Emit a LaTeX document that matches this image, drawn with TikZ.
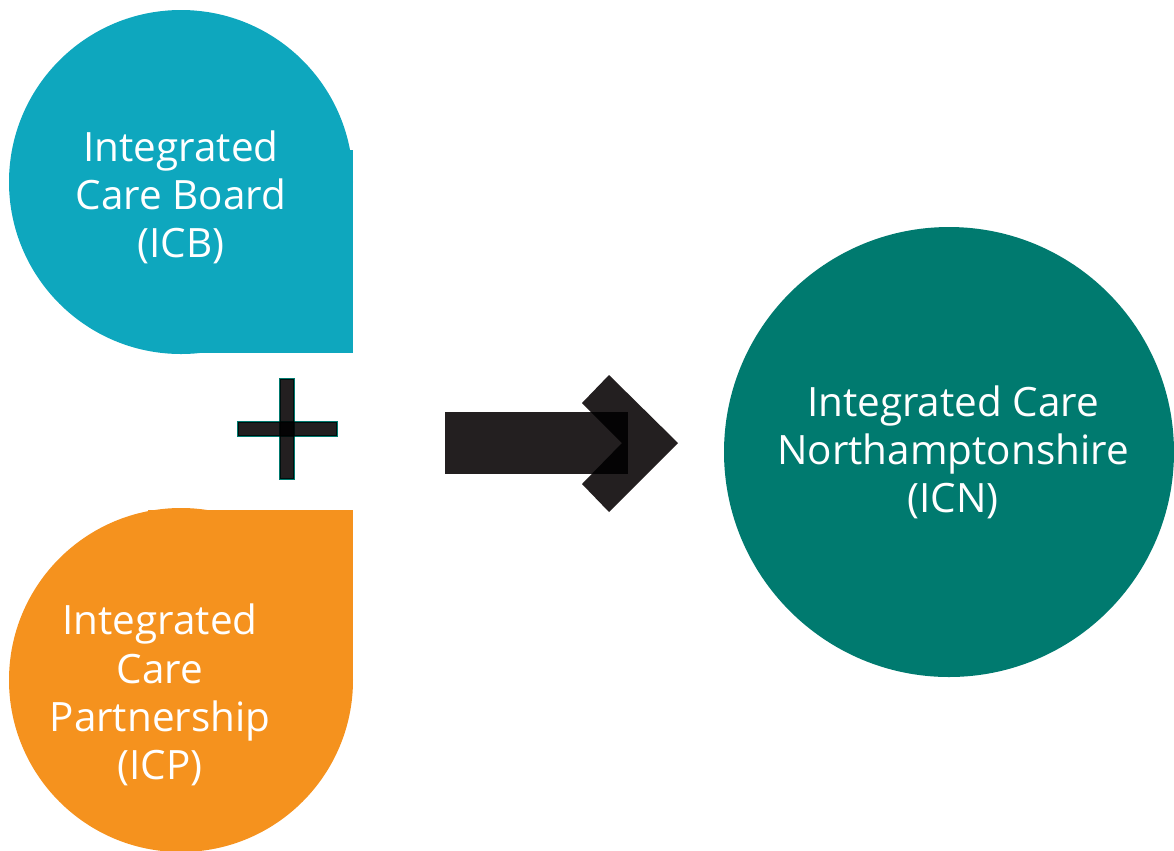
\documentclass[tikz,border=0pt]{standalone}
\usepackage{fontspec}
\setmainfont{Open Sans}
\usetikzlibrary{positioning}

\definecolor{icbblue}{HTML}{0EA7BE}
\definecolor{icporange}{HTML}{F5921E}
\definecolor{icnteal}{HTML}{007A6F}
\definecolor{inkdark}{HTML}{231F20}

\begin{document}
\begin{tikzpicture}[x=0.02cm, y=-0.02cm,
    droptext/.style={text=white, align=center, font=\fontsize{23}{27.4}\selectfont},
    darkpiece/.style={fill=inkdark, blend mode=multiply}]

  \useasboundingbox (0,0) rectangle (1174,850);

  \def\dropR{172}

  % ICB drop (circle with square corner)
  \fill[icbblue] (181,182) circle[radius=\dropR];
  \fill[icbblue] (181,150) rectangle (353,353);
  \node[droptext] (icb) at (181,197) {Integrated\\Care Board\\(ICB)};

  % ICP drop
  \fill[icporange] (181,680) circle[radius=\dropR];
  \fill[icporange] (148,510) rectangle (353,680);
  \node[droptext] (icp) at (160,695) {Integrated\\Care\\Partnership\\(ICP)};

  % plus sign
  \filldraw[darkpiece, draw=icnteal, line width=1.4pt] (280,379) rectangle (294,479);
  \filldraw[darkpiece, draw=icnteal, line width=1.4pt] (238,422) rectangle (337,436);

  % arrow (bar plus chevron head)
  \fill[darkpiece] (445,412) rectangle (628,474);
  \fill[darkpiece] (582,403) -- (609,375) -- (678,443) -- (609,512)
    -- (582,484) -- (622,443) -- cycle;

  % ICN circle
  \fill[icnteal] (949,452) circle[radius=225];
  \node[droptext] (icn) at (953,452) {Integrated Care\\Northamptonshire\\(ICN)};

\end{tikzpicture}
\end{document}
